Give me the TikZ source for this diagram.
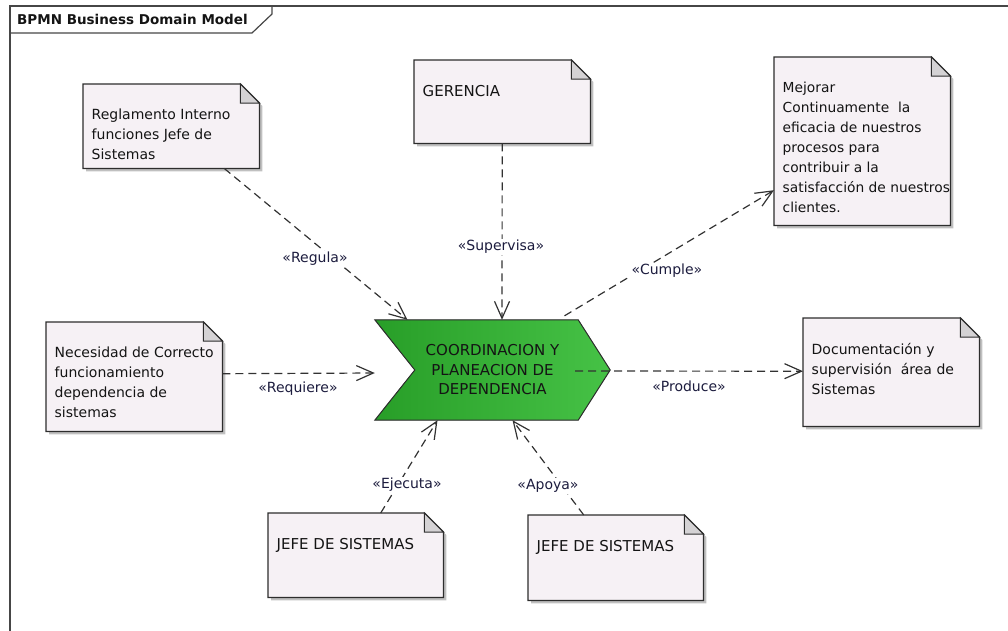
\documentclass[tikz,border=0pt]{standalone}
\usepackage{fontspec}
\setmainfont{DejaVu Sans}
\usetikzlibrary{arrows.meta,backgrounds}

\definecolor{notefill}{RGB}{246,241,245}
\definecolor{foldfill}{RGB}{212,210,212}
\definecolor{notebord}{RGB}{45,45,45}
\definecolor{shadowc}{RGB}{192,192,192}
\definecolor{greenL}{RGB}{40,158,40}
\definecolor{greenR}{RGB}{70,194,70}
\definecolor{lblc}{RGB}{28,28,62}
\definecolor{txtc}{RGB}{20,20,20}
\definecolor{framec}{RGB}{70,70,70}
\definecolor{connc}{RGB}{50,50,50}

% text block of a note: width, height, font size, lines
\newcommand\notetext[4]{\parbox[t][#2pt][t]{#1pt}{\fontsize{#3}{20}\selectfont
  \leftskip=8.5pt\rightskip=0pt plus 1fil\relax\vspace*{25pt}#4}}

% folded-corner note outline with drop shadow, drawn under a named node
\newcommand\notebox[1]{%
  \fill[shadowc] ([shift={(3pt,-3pt)}]#1.south west) -- ([shift={(3pt,-3pt)}]#1.south east)
     -- ([shift={(3pt,-22pt)}]#1.north east) -- ([shift={(-16pt,-3pt)}]#1.north east)
     -- ([shift={(3pt,-3pt)}]#1.north west) -- cycle;
  \filldraw[notepath] (#1.south west) -- (#1.south east) -- ([yshift=-19pt]#1.north east)
     -- ([xshift=-19pt]#1.north east) -- (#1.north west) -- cycle;
  \filldraw[foldpath] ([xshift=-19pt]#1.north east) -- ([shift={(-19pt,-19pt)}]#1.north east)
     -- ([yshift=-19pt]#1.north east) -- cycle;
}

\tikzset{
  notepath/.style={fill=notefill, draw=notebord, line width=1.3pt, line join=miter},
  foldpath/.style={fill=foldfill, draw=notebord, line width=1pt, line join=miter},
  note/.style={anchor=north west, inner sep=0pt, text=txtc},
  conn/.style={draw=connc, line width=1.2pt, dash pattern=on 8pt off 5pt,
    -{Straight Barb[length=17pt,width=15pt]}},
  lab/.style={fill=white, inner sep=1pt, text=lblc, font=\fontsize{14}{16}\selectfont},
}

\begin{document}
\begin{tikzpicture}[x=1pt,y=-1pt]
\useasboundingbox (0,0) rectangle (1008,630);

% diagram frame and its title tab
\draw[framec, line width=1.5pt] (10,640) -- (10,6) -- (1015,6);
\draw[framec, line width=1.2pt] (10,33) -- (252,33) -- (272,14) -- (272,6);
\node[anchor=west, inner sep=0pt, text=txtc, font=\bfseries\fontsize{13.5}{16}\selectfont]
  (title) at (17,19.5) {BPMN Business Domain Model};

% notes
\node[note] (reg) at (83,84)  {\notetext{176}{84}{14}{Reglamento Interno\\funciones Jefe de\\Sistemas}};
\node[note] (ger) at (414,60) {\notetext{176}{83}{15}{GERENCIA}};
\node[note] (mej) at (774,57) {\notetext{176}{168}{13.8}{Mejorar\\Continuamente~ la\\eficacia de nuestros\\procesos para\\contribuir a la\\\mbox{satisfacción de nuestros}\\clientes.}};
\node[note] (nec) at (46,322) {\notetext{176}{109}{14}{Necesidad de Correcto\\funcionamiento\\dependencia de\\sistemas}};
\node[note] (doc) at (803,318) {\notetext{176}{108}{14}{Documentación y\\supervisión~ área de\\Sistemas}};
\node[note] (jefeA) at (268,513) {\notetext{175}{84}{15}{JEFE DE SISTEMAS}};
\node[note] (jefeB) at (528,515) {\notetext{175}{85}{15}{JEFE DE SISTEMAS}};

% central activity
\node[minimum width=235pt, minimum height=100pt, inner sep=0pt, align=center, text=txtc,
  font=\fontsize{15}{19.5}\selectfont] (chev) at (492.5,370)
  {COORDINACION Y\\PLANEACION DE\\DEPENDENCIA};

\begin{pgfonlayer}{background}
  \notebox{reg}
  \notebox{ger}
  \notebox{mej}
  \notebox{nec}
  \notebox{doc}
  \notebox{jefeA}
  \notebox{jefeB}
  \filldraw[left color=greenL, right color=greenR, draw=notebord, line width=1pt, line join=miter]
    (chev.north west) -- ([xshift=-32pt]chev.north east) -- (chev.east)
    -- ([xshift=-32pt]chev.south east) -- (chev.south west)
    -- ([xshift=40pt]chev.west) -- cycle;
\end{pgfonlayer}

% dependencies
\draw[conn] ([xshift=53pt]reg.south) -- ([xshift=-85pt]chev.north);
\draw[conn] (ger.south) -- ([xshift=9.5pt]chev.north);
\draw[conn] ([shift={(72pt,4pt)}]chev.north) -- ([yshift=-49pt]mej.west);
\draw[conn] ([yshift=3pt]nec.east) -- ([yshift=-3pt]chev.west);
\draw[conn] ([shift={(-35pt,-1pt)}]chev.east) -- ([yshift=1pt]doc.west);
\draw[conn] ([xshift=25pt]jefeA.north) -- ([xshift=-55pt]chev.south);
\draw[conn] ([xshift=-32pt]jefeB.north) -- ([xshift=20pt]chev.south);

% stereotype labels
\node[lab] (lRegula)    at (315,259) {«Regula»};
\node[lab] (lSupervisa) at (501,247) {«Supervisa»};
\node[lab] (lCumple)    at (667,271) {«Cumple»};
\node[lab] (lRequiere)  at (298,389) {«Requiere»};
\node[lab] (lProduce)   at (689,386) {«Produce»};
\node[lab] (lEjecuta)   at (407,485) {«Ejecuta»};
\node[lab] (lApoya)     at (548,486) {«Apoya»};
\end{tikzpicture}
\end{document}
